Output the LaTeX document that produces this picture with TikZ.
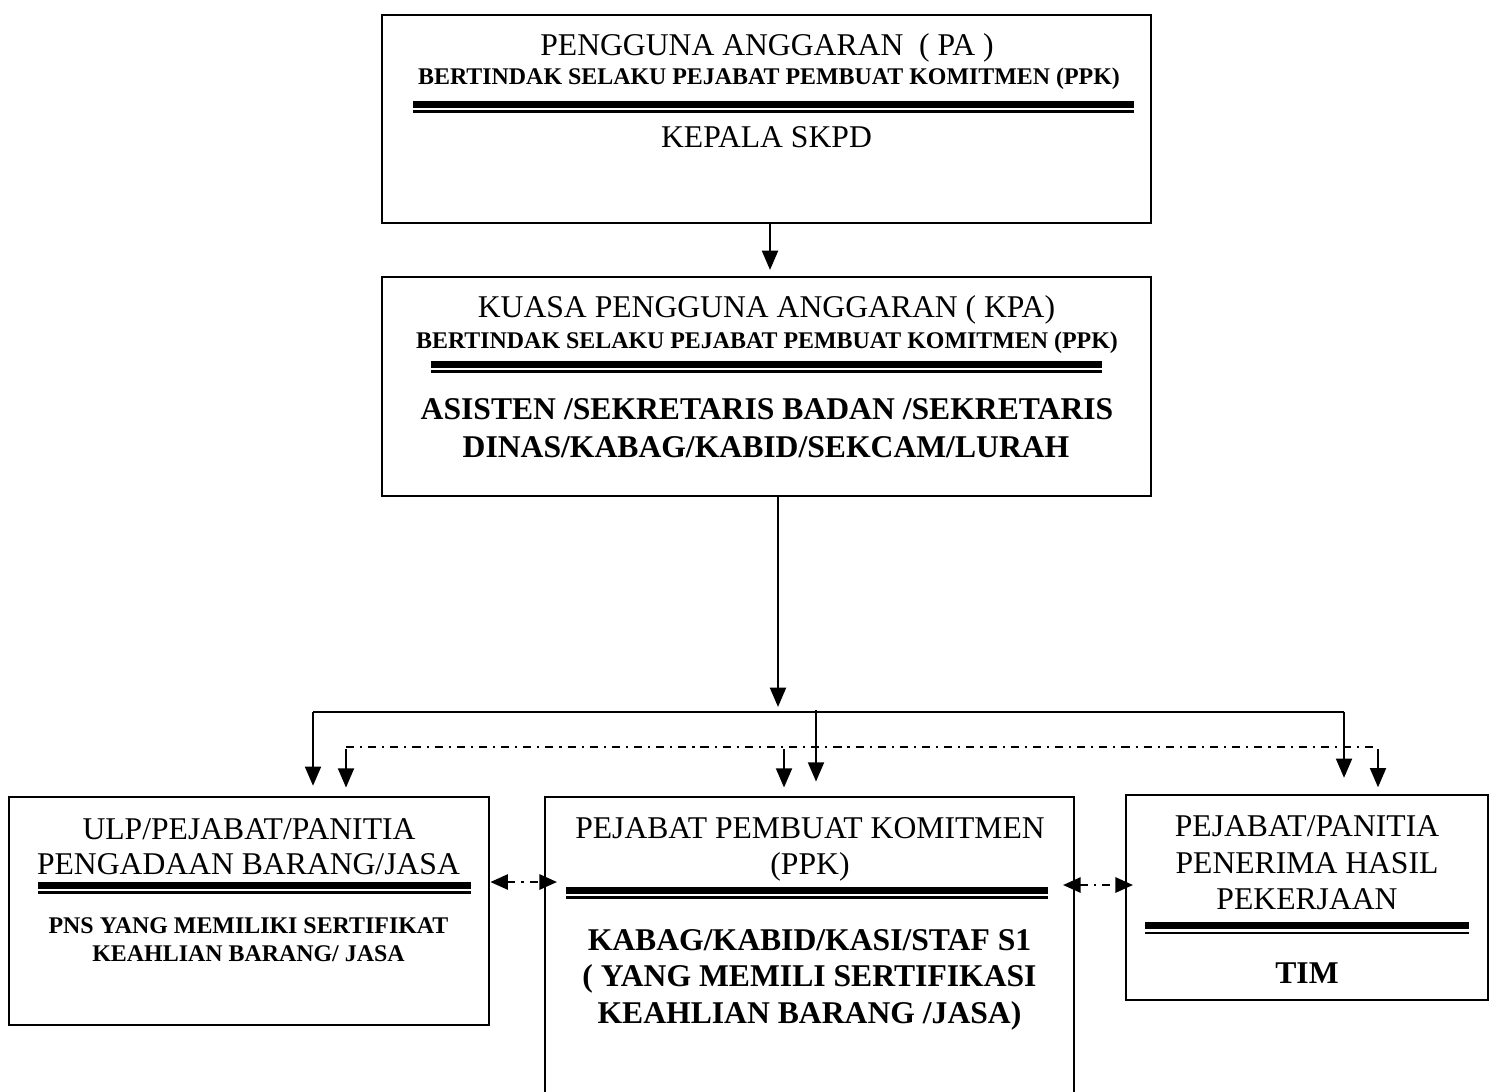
\documentclass[tikz,border=0pt]{standalone}
\usepackage{fontspec}
\setmainfont{Liberation Serif}
\usetikzlibrary{arrows.meta}
\begin{document}
\begin{tikzpicture}[x=0.01cm,y=-0.01cm,
  box/.style={draw, line width=0.7pt, inner sep=0pt},
  lab/.style={inner sep=0pt, anchor=base, font=\fontsize{9}{10}\selectfont},
  labb/.style={inner sep=0pt, anchor=base, font=\fontsize{9}{10}\selectfont\bfseries},
  labs/.style={inner sep=0pt, anchor=base, font=\fontsize{6.8}{8}\selectfont\bfseries},
  conn/.style={line width=0.75pt},
  arr/.style={conn, -{Triangle[length=5.5pt,width=4.5pt]}},
  dd/.style={line width=0.7pt, dash pattern=on 2.3pt off 1.7pt on 0.6pt off 1.7pt},
  darr/.style={dd, {Triangle[length=5pt,width=4.3pt]}-{Triangle[length=5pt,width=4.3pt]}},
  thickrule/.style={line width=2pt},
  thinrule/.style={line width=0.7pt}]
\useasboundingbox (0,0) rectangle (1498,1091);
\clip (0,0) rectangle (1498,1091);

% ---------- boxes ----------
\node[box, minimum width=7.69cm, minimum height=2.08cm] (pa)  at (766.5,119) {};
\node[box, minimum width=7.69cm, minimum height=2.19cm] (kpa) at (766.5,386.5) {};
\node[box, minimum width=4.80cm, minimum height=2.28cm] (ulp) at (249,911) {};
\node[box, minimum width=5.29cm, minimum height=3.33cm] (ppk) at (809.5,963.5) {};
\node[box, minimum width=3.62cm, minimum height=2.05cm] (pph) at (1307,897.5) {};

% ---------- PA ----------
\node[lab]  (pa1) at (767,55.5) {PENGGUNA ANGGARAN~~( PA )};
\node[labs] (pa2) at (769,85) {BERTINDAK SELAKU PEJABAT PEMBUAT KOMITMEN (PPK)};
\draw[thickrule] (413,104.5) -- (1134,104.5);
\draw[thinrule]  (413,111.3) -- (1134,111.3);
\node[lab]  (pa3) at (766.5,147) {KEPALA SKPD};

% ---------- KPA ----------
\node[lab]  (kpa1) at (766.5,317) {KUASA PENGGUNA ANGGARAN ( KPA)};
\node[labs] (kpa2) at (767,348) {BERTINDAK SELAKU PEJABAT PEMBUAT KOMITMEN (PPK)};
\draw[thickrule] (431,364.7) -- (1102,364.7);
\draw[thinrule]  (431,371.3) -- (1102,371.3);
\node[labb] (kpa3) at (767,419) {ASISTEN /SEKRETARIS BADAN /SEKRETARIS};
\node[labb] (kpa4) at (766,457) {DINAS/KABAG/KABID/SEKCAM/LURAH};

% ---------- ULP ----------
\node[lab]  (ulp1) at (249,839) {ULP/PEJABAT/PANITIA};
\node[lab]  (ulp2) at (248.5,874) {PENGADAAN BARANG/JASA};
\draw[thickrule] (38,885.5) -- (471,885.5);
\draw[thinrule]  (38,892.5) -- (471,892.5);
\node[labs] (ulp3) at (248.5,933) {PNS YANG MEMILIKI SERTIFIKAT};
\node[labs] (ulp4) at (248.5,961) {KEAHLIAN BARANG/ JASA};

% ---------- PPK ----------
\node[lab]  (ppk1) at (810,838) {PEJABAT PEMBUAT KOMITMEN};
\node[lab]  (ppk2) at (810,874) {(PPK)};
\draw[thickrule] (566,890.7) -- (1048,890.7);
\draw[thinrule]  (566,897.3) -- (1048,897.3);
\node[labb] (ppk3) at (809.5,950) {KABAG/KABID/KASI/STAF S1};
\node[labb] (ppk4) at (809.5,986.5) {( YANG MEMILI SERTIFIKASI};
\node[labb] (ppk5) at (809.5,1023) {KEAHLIAN BARANG /JASA)};

% ---------- PPH ----------
\node[lab]  (pph1) at (1307,836.5) {PEJABAT/PANITIA};
\node[lab]  (pph2) at (1307,873) {PENERIMA HASIL};
\node[lab]  (pph3) at (1307,909) {PEKERJAAN};
\draw[thickrule] (1145,925.5) -- (1469,925.5);
\draw[thinrule]  (1145,933) -- (1469,933);
\node[labb] (pph4) at (1307,983) {TIM};

% ---------- connectors ----------
\coordinate (a1e) at (770,270);
\draw[arr] (pa.south -| a1e) -- (a1e);

\coordinate (a2e) at (778,707);
\draw[arr] (kpa.south -| a2e) -- (a2e);

\coordinate (busL) at (313,712);
\coordinate (busR) at (1344,712);
\coordinate (busM) at (816,710);
\draw[conn] (busL) -- (busR);
\draw[arr, shorten >=2.8pt] (busL) -- (ulp.north -| busL);
\draw[arr, shorten >=4pt]   (busM) -- (ppk.north -| busM);
\draw[arr, shorten >=4.5pt] (busR) -- (pph.north -| busR);

\coordinate (dL) at (346,747);
\coordinate (dR) at (1378,747);
\coordinate (dM1) at (784,749);
\coordinate (dL1) at (346,749);
\coordinate (dR1) at (1378,749);
\draw[dd] (dL) -- (dR);
\draw[arr, shorten >=2.3pt] (dL1) -- (ulp.north -| dL1);
\draw[arr, shorten >=2.3pt] (dM1) -- (ppk.north -| dM1);
\draw[arr, shorten >=1.8pt] (dR1) -- (pph.north -| dR1);

\coordinate (l1) at (487,882);
\coordinate (l2) at (557,882);
\draw[darr] (ulp.east |- l1) -- (l2);
\coordinate (r1) at (1063,885);
\coordinate (r2) at (1133,885);
\draw[darr] (r1) -- (r2);
\end{tikzpicture}
\end{document}
